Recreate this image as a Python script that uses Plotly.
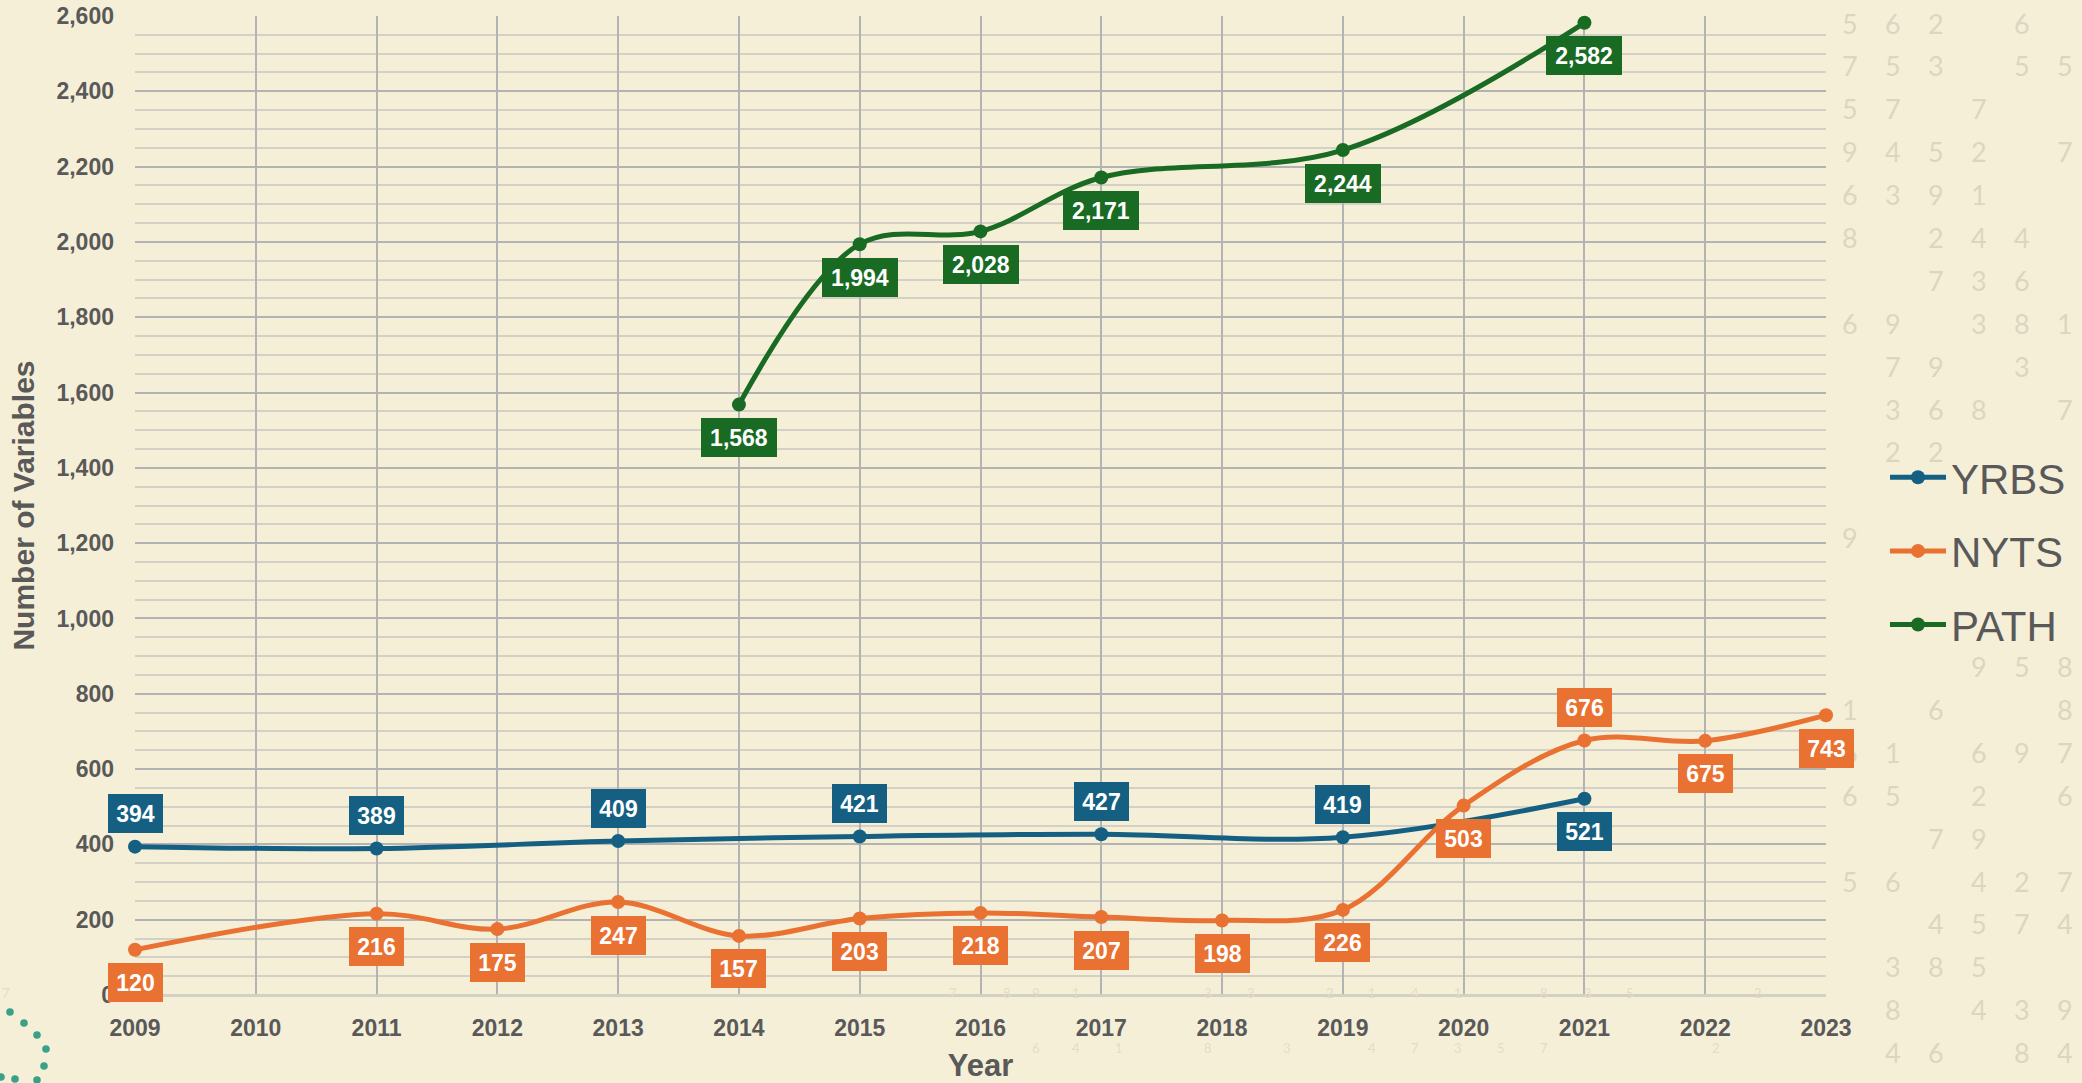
import plotly.graph_objects as go

# ---------------- data ----------------
yrbs_years = [2009, 2011, 2013, 2015, 2017, 2019, 2021]
yrbs_vals = [394, 389, 409, 421, 427, 419, 521]
yrbs_label_pos = ["above", "above", "above", "above", "above", "above", "below"]

nyts_years = [2009, 2011, 2012, 2013, 2014, 2015, 2016, 2017, 2018, 2019, 2020, 2021, 2022, 2023]
nyts_vals = [120, 216, 175, 247, 157, 203, 218, 207, 198, 226, 503, 676, 675, 743]
nyts_label_pos = ["below"] * 11 + ["above", "below", "below"]

path_years = [2014, 2015, 2016, 2017, 2019, 2021]
path_vals = [1568, 1994, 2028, 2171, 2244, 2582]
path_label_pos = ["below"] * 6

x_ticks = list(range(2009, 2024))
y_ticks = list(range(0, 2601, 200))

# decorative faint digits (right margin grid, rows top to bottom, 6 columns)
decor_rows = [
    "562 6 ", "753 55", "57 7  ", "9452 7", "6391  ", "8 244 ", "  736 ", "69 381",
    " 79 3 ", " 368 7", " 22   ", "      ", "9     ", "      ", "      ", "   958",
    "1 6  8", "61 697", "65 2 6", "  79  ", "56 427", "  4574", " 385  ", " 8 439", " 46 84",
]
bottom_digits_1 = "7891332141835 72"
bottom_digits_2 = "64183473572"

# ---------------- styling ----------------
BG = "#f5efd8"
C_YRBS = "#156082"
C_NYTS = "#E97132"
C_PATH = "#196B24"
TXT = "#595959"
FONT = "Liberation Sans, Arial, sans-serif"

W, H = 2082, 1083
L, R, T, B = 135, 256, 16, 88
PW, PH = W - L - R, H - T - B


def px(xp):
    return (xp - L) / PW


def py(yp):
    return (H - B - yp) / PH


fig = go.Figure()

series = [
    ("YRBS", yrbs_years, yrbs_vals, C_YRBS),
    ("NYTS", nyts_years, nyts_vals, C_NYTS),
    ("PATH", path_years, path_vals, C_PATH),
]
for name, xs, ys, col in series:
    fig.add_trace(go.Scatter(
        x=xs, y=ys, name=name, mode="lines+markers",
        line=dict(color=col, width=5, shape="spline", smoothing=1.0),
        marker=dict(color=col, size=14),
        cliponaxis=False, hoverinfo="skip", legendgroup=name,
    ))

annotations = []

# decorative digits
col_x = [1850, 1893, 1936, 1979, 2022, 2065]
for i, row in enumerate(decor_rows):
    yp = 23 + i * 42.9
    for j, ch in enumerate(row):
        if ch.strip():
            annotations.append(dict(
                xref="paper", yref="paper", x=px(col_x[j]), y=py(yp),
                text=ch, showarrow=False, xanchor="center", yanchor="middle",
                font=dict(family="Lato, sans-serif", size=27, color="#dcd6c0"),
            ))
b1_x = [953, 1007, 1036, 1076, 1208, 1251, 1336, 1378, 1421, 1464, 1550, 1594, 1636, 1678, 0, 1764]
for ch, xp in zip(bottom_digits_1, b1_x):
    if ch.strip():
        annotations.append(dict(xref="paper", yref="paper", x=px(xp), y=py(1003), text=ch,
                                showarrow=False, font=dict(family="Lato, sans-serif", size=13, color="#e3ddc6")))
b2_x = [1036, 1076, 1119, 1208, 1293, 1378, 1421, 1464, 1507, 1550, 1722]
for ch, xp in zip(bottom_digits_2, b2_x):
    annotations.append(dict(xref="paper", yref="paper", x=px(xp), y=py(1058), text=ch,
                            showarrow=False, font=dict(family="Lato, sans-serif", size=13, color="#e3ddc6")))

# data labels
for name, xs, ys, col in series:
    pos = {"YRBS": yrbs_label_pos, "NYTS": nyts_label_pos, "PATH": path_label_pos}[name]
    for xv, yv, p in zip(xs, ys, pos):
        txt = f"{yv:,}"
        annotations.append(dict(
            x=xv, y=yv, xref="x", yref="y", text=f"<b>{txt}</b>", showarrow=False,
            xanchor="center", yanchor="middle", yshift=33 if p == "above" else -33,
            bgcolor=col, borderpad=7, borderwidth=0,
            width=41 if len(txt) <= 3 else 62, height=25,
            font=dict(family=FONT, size=23, color="white"),
        ))

# decorative teal dots (bottom-left)
dots = [(10, 1012), (24, 1023), (37, 1035), (46, 1049), (44, 1066), (37, 1080), (15, 1079), (1, 1077)]
shapes = []
for (dx, dy) in dots:
    r = 3.8
    shapes.append(dict(type="circle", xref="paper", yref="paper",
                       x0=px(dx - r), x1=px(dx + r), y0=py(dy + r), y1=py(dy - r),
                       fillcolor="#3aa187", line=dict(width=0), layer="below"))

fig.update_layout(
    width=W, height=H,
    paper_bgcolor=BG, plot_bgcolor=BG,
    margin=dict(l=L, r=R, t=T, b=B, autoexpand=False),
    font=dict(family=FONT, color=TXT),
    showlegend=True,
    legend=dict(
        x=px(1885), y=py(551), xanchor="left", yanchor="middle",
        font=dict(family=FONT, size=42, color=TXT),
        bgcolor="rgba(0,0,0,0)", traceorder="grouped", tracegroupgap=16,
        itemwidth=56,
    ),
    annotations=annotations,
    shapes=shapes,
    xaxis=dict(
        range=[2009, 2023], tickmode="array", tickvals=x_ticks,
        ticktext=[str(v) for v in x_ticks],
        showgrid=True, gridcolor="#b3b3b3", gridwidth=1.5,
        zeroline=False, showline=False, ticks="",
        tickfont=dict(family=FONT, size=23, color=TXT, weight="bold"),
        ticklabelstandoff=17,
        title=dict(text="<b>Year</b>", font=dict(family=FONT, size=31, color=TXT), standoff=26),
    ),
    yaxis=dict(
        range=[0, 2600], tickmode="array", tickvals=y_ticks,
        ticktext=[f"{v:,}" for v in y_ticks],
        showgrid=True, gridcolor="#b3b3b3", gridwidth=1.5,
        minor=dict(dtick=50, showgrid=True, gridcolor="#d3d0c6", gridwidth=1.5),
        zeroline=True, zerolinecolor="#d3d0c6", zerolinewidth=2.5,
        showline=False, ticks="",
        tickfont=dict(family=FONT, size=23, color=TXT, weight="bold"),
        ticklabelstandoff=20,
        title=dict(text="<b>Number of Variables</b>", font=dict(family=FONT, size=30, color=TXT), standoff=12),
    ),
)

fig.write_html(
    "out.html",
    config={"displayModeBar": False},
    post_script="document.body.style.margin='0';document.body.style.background='#f5efd8';",
)
